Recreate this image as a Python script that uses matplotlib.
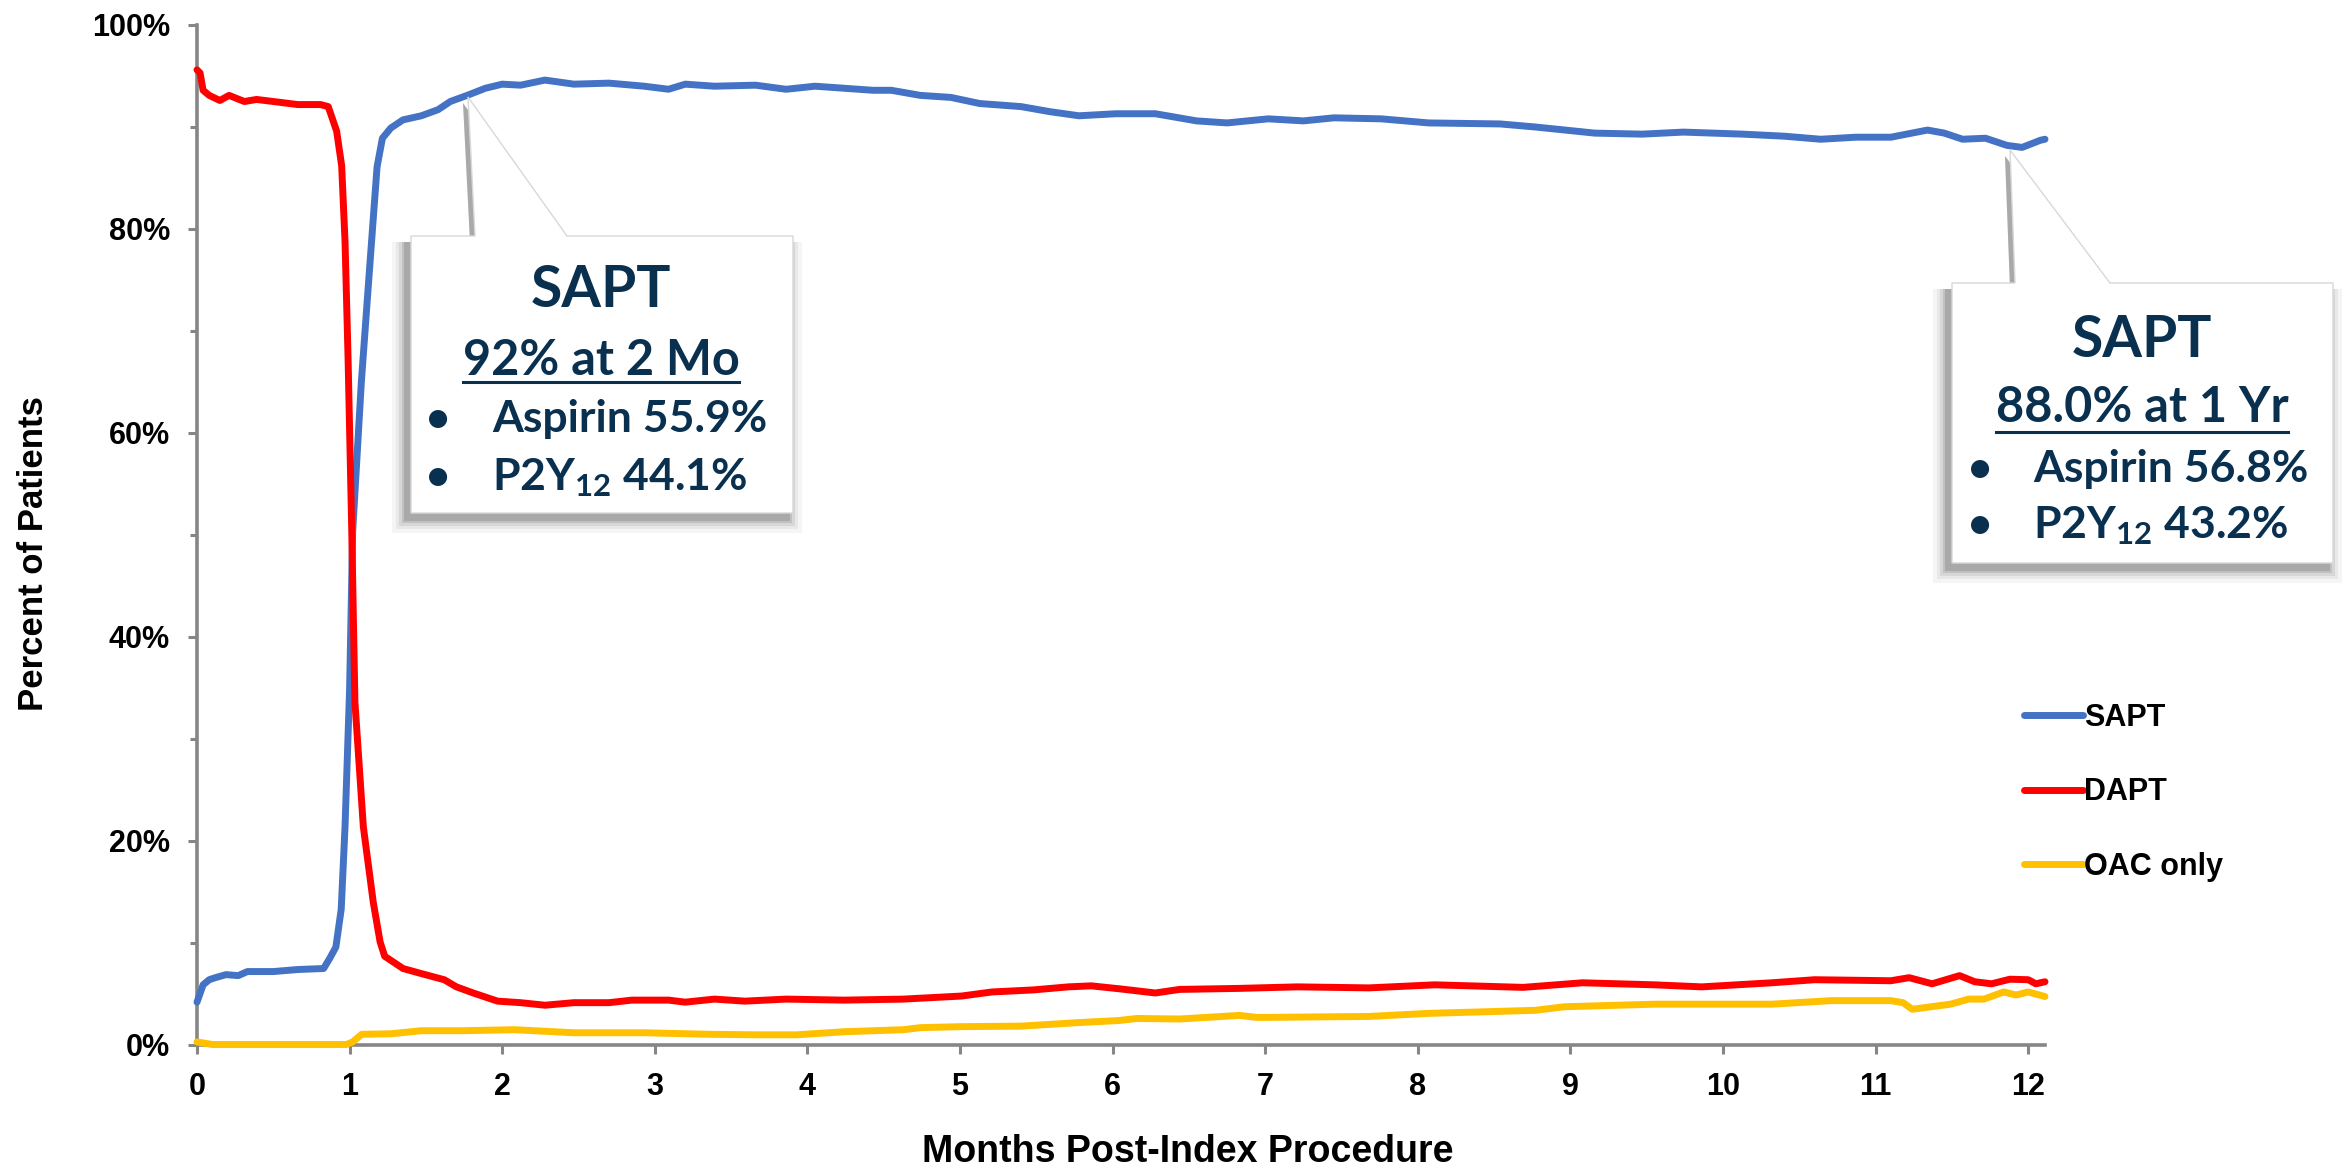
import matplotlib
matplotlib.use("Agg")
import matplotlib.pyplot as plt
from matplotlib.patches import Polygon
from matplotlib.lines import Line2D
from matplotlib.ticker import FuncFormatter, MultipleLocator

# ---------------- data (percent of patients) ----------------
sapt_months = [0.00, 0.04, 0.08, 0.12, 0.19, 0.27, 0.33, 0.50, 0.66, 0.83, 0.87, 0.91,
               0.945, 0.97, 1.00, 1.02, 1.077, 1.12, 1.15, 1.18, 1.215, 1.27, 1.35,
               1.47, 1.58, 1.66, 1.77, 1.89, 2.00, 2.12, 2.28, 2.47, 2.70, 2.93, 3.09,
               3.20, 3.39, 3.66, 3.86, 4.05, 4.24, 4.43, 4.55, 4.74, 4.94, 5.13, 5.40,
               5.59, 5.78, 6.02, 6.28, 6.55, 6.75, 7.02, 7.25, 7.45, 7.76, 8.07, 8.54,
               8.77, 9.16, 9.47, 9.74, 10.13, 10.40, 10.64, 10.87, 11.10, 11.34, 11.45,
               11.57, 11.72, 11.86, 11.96, 12.08, 12.11]
sapt_pct = [4.2, 5.9, 6.4, 6.6, 6.9, 6.8, 7.2, 7.2, 7.4, 7.5, 8.5, 9.6,
            13.3, 21.4, 34.9, 50.3, 65.0, 73.9, 80.0, 86.1, 88.9, 89.9, 90.7,
            91.1, 91.7, 92.5, 93.1, 93.8, 94.2, 94.1, 94.6, 94.2, 94.3, 94.0, 93.7,
            94.2, 94.0, 94.1, 93.7, 94.0, 93.8, 93.6, 93.6, 93.1, 92.9, 92.3, 92.0,
            91.5, 91.1, 91.3, 91.3, 90.6, 90.4, 90.8, 90.6, 90.9, 90.8, 90.4, 90.3,
            90.0, 89.4, 89.3, 89.5, 89.3, 89.1, 88.8, 89.0, 89.0, 89.7, 89.4,
            88.8, 88.9, 88.2, 88.0, 88.7, 88.8]

dapt_months = [0.00, 0.02, 0.04, 0.08, 0.15, 0.21, 0.31, 0.39, 0.50, 0.66, 0.81, 0.86,
               0.915, 0.948, 0.97, 0.99, 1.014, 1.035, 1.09, 1.155, 1.20, 1.23, 1.35,
               1.47, 1.62, 1.70, 1.81, 1.97, 2.12, 2.28, 2.47, 2.70, 2.85, 3.09, 3.20,
               3.39, 3.59, 3.86, 4.24, 4.63, 5.01, 5.21, 5.48, 5.71, 5.86, 6.05, 6.28,
               6.44, 6.83, 7.21, 7.68, 8.11, 8.69, 9.08, 9.55, 9.86, 10.32, 10.60,
               11.10, 11.22, 11.37, 11.55, 11.65, 11.76, 11.88, 12.00, 12.05, 12.11]
dapt_pct = [95.6, 95.3, 93.6, 93.1, 92.6, 93.1, 92.5, 92.7, 92.5, 92.2, 92.2, 92.0,
            89.6, 86.2, 78.8, 67.3, 50.5, 33.6, 21.4, 14.0, 10.1, 8.7, 7.5,
            7.0, 6.4, 5.7, 5.1, 4.3, 4.15, 3.9, 4.15, 4.15, 4.4, 4.4, 4.2,
            4.5, 4.3, 4.5, 4.4, 4.5, 4.8, 5.2, 5.4, 5.7, 5.8, 5.5, 5.1,
            5.45, 5.55, 5.7, 5.6, 5.9, 5.65, 6.1, 5.9, 5.7, 6.1, 6.4,
            6.3, 6.6, 6.0, 6.8, 6.2, 6.0, 6.45, 6.4, 6.0, 6.2]

oac_months = [0.00, 0.04, 0.10, 0.98, 1.02, 1.08, 1.27, 1.47, 1.74, 2.08, 2.47, 2.93,
              3.36, 3.66, 3.93, 4.24, 4.63, 4.74, 5.01, 5.40, 5.78, 6.04, 6.16, 6.44,
              6.83, 6.95, 7.68, 8.07, 8.77, 8.96, 9.55, 10.32, 10.71, 11.10, 11.18,
              11.24, 11.49, 11.61, 11.71, 11.84, 11.92, 12.00, 12.11]
oac_pct = [0.3, 0.2, 0.05, 0.05, 0.3, 1.05, 1.1, 1.4, 1.4, 1.5, 1.2, 1.2,
           1.05, 1.0, 1.0, 1.3, 1.5, 1.7, 1.8, 1.85, 2.2, 2.4, 2.6, 2.55,
           2.9, 2.7, 2.8, 3.1, 3.4, 3.75, 4.0, 4.0, 4.35, 4.35, 4.15,
           3.5, 4.0, 4.5, 4.5, 5.2, 4.9, 5.2, 4.75]

series_names = ["SAPT", "DAPT", "OAC only"]
series_colors = ["#4472C4", "#FF0000", "#FFC000"]

x_ticks = list(range(0, 13))
y_ticks = [0, 20, 40, 60, 80, 100]

callout1_lines = ["SAPT", "92% at 2 Mo", "Aspirin 55.9%", "P2Y$_{12}$ 44.1%"]
callout2_lines = ["SAPT", "88.0% at 1 Yr", "Aspirin 56.8%", "P2Y$_{12}$ 43.2%"]

# ---------------- figure ----------------
W, H = 2351, 1167
DPI = 100
plt.rcParams['mathtext.fontset'] = 'custom'
plt.rcParams['mathtext.rm'] = 'Lato:bold'
plt.rcParams['mathtext.it'] = 'Lato:bold'
plt.rcParams['mathtext.bf'] = 'Lato:bold'

fig = plt.figure(figsize=(W / DPI, H / DPI), dpi=DPI, facecolor="white")

def fx(px):
    return px / W

def fy(py):
    return 1 - py / H

ax_l, ax_r, ax_t, ax_b = 197, 2045, 25, 1045
ax = fig.add_axes([fx(ax_l), fy(ax_b), fx(ax_r - ax_l), (ax_b - ax_t) / H])

lw = 5.0
for xs, ys, name, col in [(sapt_months, sapt_pct, series_names[0], series_colors[0]),
                          (dapt_months, dapt_pct, series_names[1], series_colors[1]),
                          (oac_months, oac_pct, series_names[2], series_colors[2])]:
    ax.plot(xs, ys, color=col, lw=lw, label=name, solid_joinstyle='round',
            solid_capstyle='round', zorder=3, clip_on=False)

ax.set_xlim(0, 12.11)
ax.set_ylim(0, 100)
ax.set_xticks(x_ticks)
ax.set_yticks(y_ticks)
ax.yaxis.set_minor_locator(MultipleLocator(10))
ax.yaxis.set_major_formatter(FuncFormatter(lambda v, p: f"{v:.0f}%"))

axis_gray = "#868686"
for s in ["top", "right"]:
    ax.spines[s].set_visible(False)
for s in ["left", "bottom"]:
    ax.spines[s].set_color(axis_gray)
    ax.spines[s].set_linewidth(2.6)

tick_font = ['Liberation Sans Narrow', 'Liberation Sans', 'DejaVu Sans']
ax.tick_params(axis='both', which='major', direction='out', length=6.5, width=2.2,
               color=axis_gray, labelsize=22, pad=13)
ax.tick_params(axis='y', which='minor', direction='out', length=5, width=2.2, color=axis_gray)
for lab in ax.get_xticklabels() + ax.get_yticklabels():
    lab.set_fontfamily(tick_font)
    lab.set_fontweight('bold')
    lab.set_color('black')

label_font = ['Liberation Sans', 'DejaVu Sans']
ax.set_ylabel("Percent of Patients", fontsize=25, fontweight='bold', family=label_font)
ax.yaxis.set_label_coords(-0.0887, 0.482)
ax.set_xlabel("Months Post-Index Procedure", fontsize=27, fontweight='bold', family=label_font)
ax.xaxis.set_label_coords(0.536, -0.105)
ax.xaxis.label.set_va('center')
ax.yaxis.label.set_va('center')

leg = ax.legend(loc='upper left', bbox_to_anchor=(fx(2024), fy(703)),
                bbox_transform=fig.transFigure, frameon=False,
                prop={'family': label_font, 'weight': 'bold', 'size': 22},
                handlelength=1.93, handletextpad=0.05, labelspacing=1.45, borderpad=0,
                borderaxespad=0)
for h in leg.get_lines():
    h.set_linewidth(lw)
    h.set_solid_capstyle('round')

# ---------------- callouts ----------------
navy = "#0A3050"

def callout(box, base, tip):
    (x0, y0, x1, y1) = box
    bl, br = base
    pts_px = [(x0, y0), (bl, y0), tip, (br, y0), (x1, y0), (x1, y1), (x0, y1)]
    for grow, alpha in [(14, 0.04), (10, 0.05), (7, 0.07), (4, 0.10), (2, 0.12)]:
        dx, dy = -5, 6
        sh = [(px + dx + (grow if px >= x1 else -grow if px <= x0 else 0),
               py + dy + (grow if py >= y1 else 0)) for (px, py) in pts_px]
        fig.patches.append(Polygon([(fx(a), fy(b)) for a, b in sh], closed=True,
                                   transform=fig.transFigure, facecolor='black',
                                   edgecolor='none', alpha=alpha, zorder=5))
    fig.patches.append(Polygon([(fx(a), fy(b)) for a, b in pts_px], closed=True,
                               transform=fig.transFigure, facecolor='white',
                               edgecolor='#D8D8D8', linewidth=1.0, zorder=6))

callout((411, 236, 793, 513), (475, 567), (468, 97))
callout((1952, 283, 2333, 563), (2015, 2110), (2010, 150))

def callout_text(lines, cx, b_title, b_sub, x_bullet, x_text, b1, b2):
    fig.text(fx(cx), fy(b_title), lines[0], ha='center', va='baseline',
             family='Lato', weight='bold', size=41, color=navy, zorder=10)
    s = fig.text(fx(cx), fy(b_sub), lines[1], ha='center', va='baseline',
                 family='Lato', weight='bold', size=35, color=navy, zorder=10)
    for yb, txt in [(b1, lines[2]), (b2, lines[3])]:
        fig.text(fx(x_bullet), fy(yb), "\u2022", ha='center', va='baseline',
                 family='Lato', weight='bold', size=30, color=navy, zorder=10)
        fig.text(fx(x_text), fy(yb), txt, ha='left', va='baseline',
                 family='Lato', weight='bold', size=32, color=navy, zorder=10)
    return s

sub1 = callout_text(callout1_lines, 601, 307, 375, 438, 492, 432, 490)
sub2 = callout_text(callout2_lines, 2142, 357, 422, 1980, 2033, 482, 538)

fig.canvas.draw()
renderer = fig.canvas.get_renderer()
for s, uy in [(sub1, 382), (sub2, 432)]:
    bb = s.get_window_extent(renderer)
    fig.add_artist(Line2D([bb.x0 / W, bb.x1 / W], [fy(uy), fy(uy)], transform=fig.transFigure,
                          color=navy, lw=2.2, zorder=10))

fig.savefig("out.png", dpi=DPI, facecolor="white")
